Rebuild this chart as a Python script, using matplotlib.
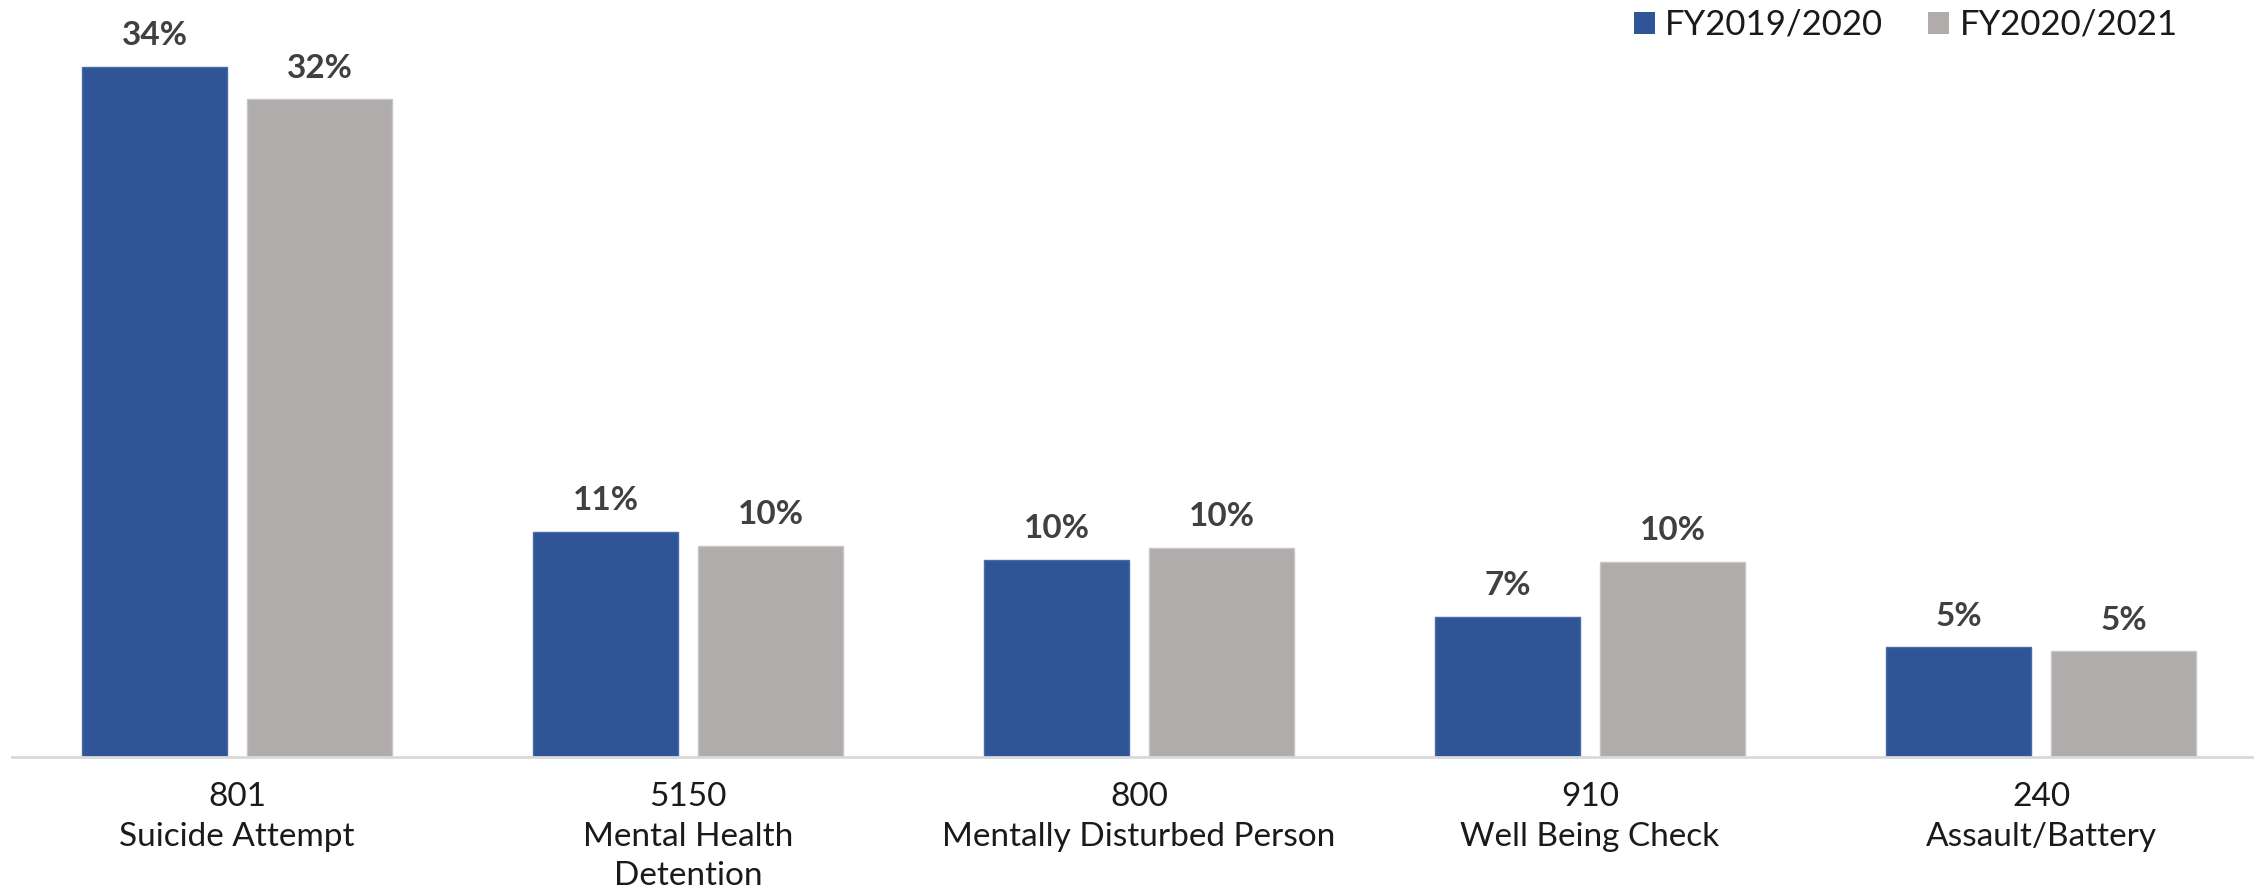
import matplotlib.pyplot as plt
import numpy as np
from matplotlib.patches import Patch

codes = ["801", "5150", "800", "910", "240"]
names = ["Suicide Attempt", "Mental Health\nDetention", "Mentally Disturbed Person",
         "Well Being Check", "Assault/Battery"]
fy2019 = [34.0, 11.1, 9.7, 6.9, 5.4]
fy2020 = [32.4, 10.4, 10.3, 9.6, 5.2]
series_names = ["FY2019/2020", "FY2020/2021"]

BLUE = "#2F5597"
GRAY = "#AFACAB"
LABEL_COLOR = "#404040"

plt.rcParams["font.family"] = ["Lato", "DejaVu Sans"]

fig = plt.figure(figsize=(22.54, 8.93), dpi=100)
ax = fig.add_axes((11.5 / 2254, 0.1523, 1 - 11.5 / 2254, 1 - 0.1523))

x = np.arange(len(codes))
width = 0.32
offset = 0.183

bars1 = ax.bar(x - offset, fy2019, width, color=BLUE, edgecolor="#4a6aa8", linewidth=1)
bars2 = ax.bar(x + offset, fy2020, width, color=GRAY, edgecolor="#c8c6c5", linewidth=1)

for bars in (bars1, bars2):
    for b in bars:
        ax.annotate(f"{b.get_height():.0f}%", (b.get_x() + b.get_width() / 2, b.get_height()),
                    xytext=(0, 12), textcoords="offset points", ha="center", va="bottom",
                    fontsize=24, fontweight="bold", color=LABEL_COLOR)

ax.set_xlim(-0.5, 4.5 - 12.5 / 451)
ax.set_ylim(0, 37.3)
ax.set_xticks(x)
ax.set_xticklabels([f"{c}\n{n}" for c, n in zip(codes, names)], fontsize=24,
                   color="#1a1a1a", linespacing=1.4, va="top")
ax.tick_params(axis="x", length=0, pad=18)
ax.set_yticks([])
for side in ("top", "right", "left"):
    ax.spines[side].set_visible(False)
ax.spines["bottom"].set_color("#d9d9d9")
ax.spines["bottom"].set_linewidth(2)

handles = [Patch(facecolor=BLUE), Patch(facecolor=GRAY)]
fig.legend(handles, series_names, loc="upper right", bbox_to_anchor=(0.98, 1.025),
           ncol=2, frameon=False, fontsize=25, handlelength=0.6, handleheight=0.6,
           handletextpad=0.3, columnspacing=1.3, labelcolor="#1a1a1a")

fig.savefig("out.png", dpi=100)
